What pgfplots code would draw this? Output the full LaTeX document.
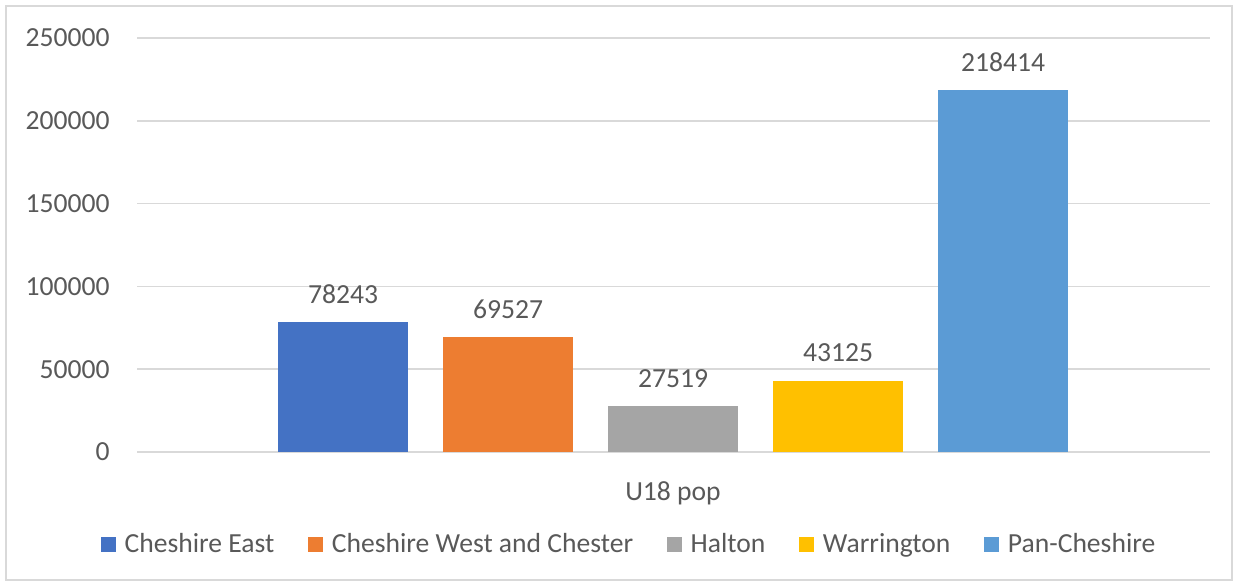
\documentclass[border=0pt]{standalone}
\usepackage{fontspec}
\setmainfont{Carlito}
\usepackage{pgfplots}
\pgfplotsset{compat=1.18}
\definecolor{txt}{HTML}{595959}
\definecolor{gridc}{HTML}{D9D9D9}
\definecolor{cA}{HTML}{4472C4}
\definecolor{cB}{HTML}{ED7D31}
\definecolor{cC}{HTML}{A5A5A5}
\definecolor{cD}{HTML}{FFC000}
\definecolor{cE}{HTML}{5B9BD5}
\begin{document}
\begin{tikzpicture}[font=\fontsize{13.8pt}{16pt}\selectfont]
\useasboundingbox (0pt,0pt) rectangle (618pt,291.5pt);
\draw[gridc, line width=0.75pt] (3pt,1.5pt) rectangle (616pt,288.5pt);
\begin{axis}[
  at={(68.5pt,65.5pt)}, anchor=south west,
  scale only axis, width=536.5pt, height=207pt,
  xmin=-1.2485, xmax=5.2545, ymin=0, ymax=250000,
  ytick={0,50000,100000,150000,200000,250000},
  scaled y ticks=false,
  yticklabel style={/pgf/number format/fixed, /pgf/number format/1000 sep={}, /pgf/number format/assume math mode=true, anchor=east, inner sep=0pt, xshift=-13.5pt, text=txt},
  xtick={2}, xticklabels={U18 pop},
  xticklabel style={anchor=north, inner sep=0pt, yshift=-14.5pt, text=txt},
  major tick length=0pt,
  axis line style={draw=none},
  ymajorgrids,
  grid style={gridc, line width=0.75pt},
  ybar, bar width=65pt, bar shift=0pt,
  nodes near coords={\pgfmathprintnumber[fixed,precision=0,1000 sep={},assume math mode=true]{\pgfplotspointmeta}},
  every node near coord/.append style={anchor=south, inner sep=0pt, yshift=9pt, text=txt},
  legend columns=-1,
  legend style={draw=none, fill=none, at={(0.4576,-0.2234)}, anchor=center,
    nodes={inner sep=0pt, anchor=west, text=txt},
    /tikz/every odd column/.append style={column sep=4.5pt},
    /tikz/every even column/.append style={column sep=16.75pt}},
  legend image code/.code={\fill[#1] (0pt,-3.75pt) rectangle (7.5pt,3.75pt);},
]
\addplot[fill=cA, draw=none] coordinates {(0,78243)};
\addplot[fill=cB, draw=none] coordinates {(1,69527)};
\addplot[fill=cC, draw=none] coordinates {(2,27519)};
\addplot[fill=cD, draw=none] coordinates {(3,43125)};
\addplot[fill=cE, draw=none] coordinates {(4,218414)};
\legend{Cheshire East, Cheshire West and Chester, Halton, Warrington, Pan-Cheshire}
\end{axis}
\end{tikzpicture}
\end{document}
